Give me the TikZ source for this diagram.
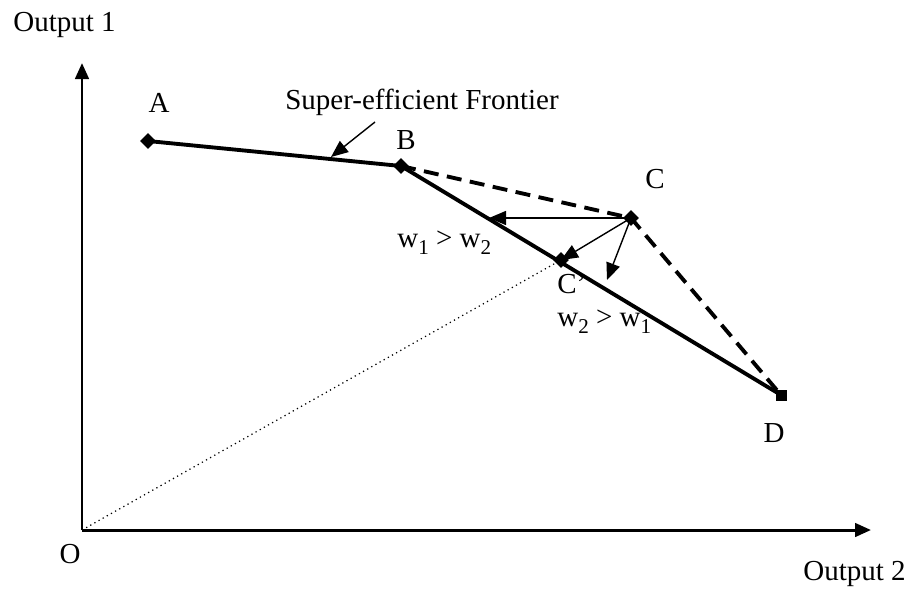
\documentclass[tikz,border=0pt]{standalone}
\usepackage{fontspec}
\setmainfont{Liberation Serif}
\usetikzlibrary{arrows.meta,shapes.geometric}

\newcommand{\subind}[1]{\raisebox{-0.55ex}{\fontsize{12}{12}\selectfont #1}}

\begin{document}
\begin{tikzpicture}[
            x=0.02cm, y=-0.02cm,
            every node/.style={font=\fontsize{16.5}{19}\selectfont, inner sep=0pt},
            punto/.style={diamond, fill=black, minimum size=0.32cm},
            cuadro/.style={rectangle, fill=black, minimum size=0.22cm},
            eje/.style={-{Triangle[length=0.32cm,width=0.27cm]}, line width=1.7pt},
            frontera/.style={line width=2.2pt},
            tramo/.style={line width=2.2pt, dash pattern=on 0.3cm off 0.17cm},
            flecha/.style={-{Triangle[length=0.34cm,width=0.28cm]}, line width=0.8pt},
            etiqueta/.style={anchor=base}
        ]
        \useasboundingbox (0,0) rectangle (912,589);

        % Origen y extremos de los ejes
        \coordinate (O) at (82,530);
        \coordinate (ytip) at (82,63);
        \coordinate (xtip) at (871,530);

        % Puntos de las unidades
        \coordinate (a) at (148,141);
        \coordinate (b) at (401,166);
        \coordinate (c) at (631,218);
        \coordinate (cp) at (561,260);
        \coordinate (d) at (781,395);

        % Ejes
        \draw[eje] (O) -- (ytip);
        \draw[eje] (O) -- (xtip);

        % Rayo desde el origen hasta la proyeccion
        \draw[dotted, line width=0.7pt] (O) -- (cp);

        % Frontera super-eficiente y frontera con C
        \draw[frontera] (a) -- (b) -- (d);
        \draw[tramo] (b) -- (c) -- (d);

        % Marcadores
        \node[punto] (A) at (a) {};
        \node[punto] (B) at (b) {};
        \node[punto] (C) at (c) {};
        \node[punto] (Cp) at (cp) {};
        \node[cuadro] (D) at (d) {};

        % Flechas de proyeccion desde C
        \coordinate (h1) at (489,218);
        \coordinate (h2) at (607,280);
        \draw[flecha] (C.center) -- (h1);
        \draw[flecha] (C.center) -- (Cp.center);
        \draw[flecha] (C.center) -- (h2);

        % Etiquetas de los ejes
        \node[anchor=base west] (ylab) at (13,31) {Output 1};
        \node[anchor=base west] (xlab) at (803,580) {Output 2};
        \node[etiqueta] (olab) at (70,563) {O};

        % Etiquetas de los puntos
        \node[etiqueta] (alab) at (159,112) {A};
        \node[etiqueta] (blab) at (406,149) {B};
        \node[etiqueta] (clab) at (655,188) {C};
        \node[anchor=base west] (cplab) at (557,293) {C’};
        \node[etiqueta] (dlab) at (774,442) {D};

        % Pesos
        \node[anchor=base west] (w12) at (397,247) {w\subind{1} > w\subind{2}};
        \node[anchor=base west] (w21) at (557,326) {w\subind{2} > w\subind{1}};

        % Nombre de la frontera con su flecha
        \node[anchor=base west] (front) at (285,109) {Super-efficient Frontier};
        \coordinate (fpie) at (375,122);
        \coordinate (fpunta) at (331,157);
        \draw[flecha] (fpie) -- (fpunta);

    \end{tikzpicture}
\end{document}
